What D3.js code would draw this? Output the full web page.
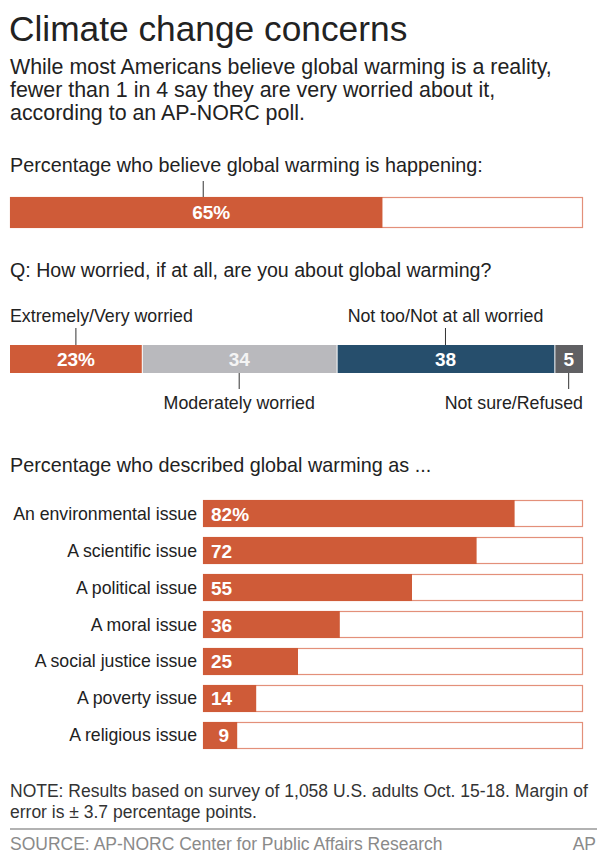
<!DOCTYPE html>
<html><head><meta charset="utf-8">
<script src="https://cdn.jsdelivr.net/npm/d3@7"></script>
<style>
html,body{margin:0;padding:0;background:#fff;}
svg text{font-family:"Liberation Sans",Arial,Helvetica,sans-serif;}
</style></head>
<body><div id="chart"></div>
<script>
// ---- data ----
const believeValue = 65;
const worryCategories = ["Extremely/Very worried","Moderately worried","Not too/Not at all worried","Not sure/Refused"];
const worryValues = [23, 34, 38, 5];
const worryLabels = ["23%","34","38","5"];
const issueCategories = ["An environmental issue","A scientific issue","A political issue","A moral issue","A social justice issue","A poverty issue","A religious issue"];
const issueValues = [82, 72, 55, 36, 25, 14, 9];
const issueLabels = ["82%","72","55","36","25","14","9"];

const W = 609, H = 862;
const orange = "#cf5b38", grey = "#b9b9bd", navy = "#264e6c", dgrey = "#606063";
const worryColors = [orange, grey, navy, dgrey];
const ink = "#222";

const svg = d3.select("#chart").append("svg").attr("width", W).attr("height", H);

// ---- headings ----
svg.append("text").attr("x", 9).attr("y", 41).attr("font-size", 35.3).attr("fill", ink)
  .text("Climate change concerns");
const sub = ["While most Americans believe global warming is a reality,",
             "fewer than 1 in 4 say they are very worried about it,",
             "according to an AP-NORC poll."];
svg.selectAll("text.sub").data(sub).join("text").attr("class","sub")
  .attr("x", 10).attr("y", (d,i) => 74 + i*23).attr("font-size", 21.4).attr("fill", ink).text(d => d);

// ---- section 1 ----
svg.append("text").attr("x", 10).attr("y", 172).attr("font-size", 19.8).attr("fill", ink)
  .text("Percentage who believe global warming is happening:");
const x1 = d3.scaleLinear().domain([0,100]).range([10,583]);
const b1y = 197, b1h = 31;
svg.append("rect").attr("x", x1(0)+0.5).attr("y", b1y+0.5).attr("width", x1(100)-x1(0)-1).attr("height", b1h-1)
  .attr("fill","#fff").attr("stroke","#e3907a").attr("stroke-width",1.2);
svg.append("rect").attr("x", x1(0)).attr("y", b1y).attr("width", x1(believeValue)-x1(0)).attr("height", b1h).attr("fill", orange);
svg.append("line").attr("x1", x1(believeValue/2)+7).attr("x2", x1(believeValue/2)+7).attr("y1", 181).attr("y2", b1y)
  .attr("stroke", "#333").attr("stroke-width", 1);
svg.append("text").attr("x", x1(believeValue/2)+15).attr("y", b1y+22).attr("text-anchor","middle")
  .attr("font-size", 19).attr("font-weight","bold").attr("fill","#fff").text(believeValue + "%");

// ---- section 2 ----
svg.append("text").attr("x", 10).attr("y", 277).attr("font-size", 19.6).attr("fill", ink)
  .text("Q: How worried, if at all, are you about global warming?");
const cum = d3.cumsum(worryValues);
const segs = worryValues.map((v,i) => ({name: worryCategories[i], v, label: worryLabels[i], x0: cum[i]-v, x1: cum[i], color: worryColors[i]}));
const b2y = 345, b2h = 28;
svg.selectAll("rect.seg").data(segs).join("rect").attr("class","seg")
  .attr("x", d => x1(d.x0) + (d.x0 > 0 ? 1 : 0)).attr("y", b2y)
  .attr("width", d => x1(d.x1) - x1(d.x0) - (d.x0 > 0 ? 1 : 0)).attr("height", b2h).attr("fill", d => d.color);
svg.selectAll("text.segv").data(segs).join("text").attr("class","segv")
  .attr("x", d => x1((d.x0+d.x1)/2)).attr("y", b2y+21).attr("text-anchor","middle")
  .attr("font-size", 19).attr("font-weight","bold").attr("fill", (d,i) => i===1 ? "#f4f4f4" : "#fff").text(d => d.label);
// annotation ticks & labels
const above = [true, false, true, false];
const anchors = ["start","middle","middle","end"];
segs.forEach((d,i) => {
  const cx = x1((d.x0+d.x1)/2);
  if (above[i]) {
    svg.append("line").attr("x1",cx).attr("x2",cx).attr("y1",328).attr("y2",b2y).attr("stroke","#333");
  } else {
    svg.append("line").attr("x1",cx).attr("x2",cx).attr("y1",b2y+b2h).attr("y2",389).attr("stroke","#333");
  }
  const tx = anchors[i] === "start" ? x1(0) : anchors[i] === "end" ? x1(100) : cx;
  svg.append("text").attr("x", tx).attr("y", above[i] ? 322 : 409).attr("text-anchor", anchors[i])
    .attr("font-size", 17.8).attr("fill", ink).text(d.name);
});

// ---- section 3 ----
svg.append("text").attr("x", 10).attr("y", 472).attr("font-size", 19.8).attr("fill", ink)
  .text("Percentage who described global warming as ...");
const x3 = d3.scaleLinear().domain([0,100]).range([203,583]);
const y3 = d3.scaleBand().domain(issueCategories).range([500, 749]).paddingInner(0.27).paddingOuter(0);
const rows = issueCategories.map((c,i) => ({c, v: issueValues[i], label: issueLabels[i]}));
const g3 = svg.append("g");
g3.selectAll("rect.bg").data(rows).join("rect").attr("class","bg")
  .attr("x", x3(0)+0.5).attr("y", d => y3(d.c)+0.5).attr("width", x3(100)-x3(0)-1).attr("height", y3.bandwidth()-1)
  .attr("fill","#fff").attr("stroke","#e3907a").attr("stroke-width",1.2);
g3.selectAll("rect.val").data(rows).join("rect").attr("class","val")
  .attr("x", x3(0)).attr("y", d => y3(d.c)).attr("width", d => x3(d.v)-x3(0)).attr("height", y3.bandwidth()).attr("fill", orange);
g3.selectAll("text.lab").data(rows).join("text").attr("class","lab")
  .attr("x", 197).attr("y", d => y3(d.c) + y3.bandwidth()/2 + 6).attr("text-anchor","end")
  .attr("font-size", 17.7).attr("fill", ink).text(d => d.c);
g3.selectAll("text.v").data(rows).join("text").attr("class","v")
  .attr("x", d => d.v < 10 ? x3(d.v) - 8 : x3(0) + 8)
  .attr("text-anchor", d => d.v < 10 ? "end" : "start")
  .attr("y", d => y3(d.c) + y3.bandwidth()/2 + 7)
  .attr("font-size", 19).attr("font-weight","bold").attr("fill","#fff").text(d => d.label);

// ---- footer ----
svg.append("text").attr("x", 10).attr("y", 797).attr("font-size", 17.5).attr("fill", "#333")
  .text("NOTE: Results based on survey of 1,058 U.S. adults Oct. 15-18. Margin of");
svg.append("text").attr("x", 10).attr("y", 818).attr("font-size", 17.5).attr("fill", "#333")
  .text("error is \u00b1 3.7 percentage points.");
svg.append("line").attr("x1", 10).attr("x2", 597).attr("y1", 829).attr("y2", 829).attr("stroke","#999").attr("stroke-width",1.5);
svg.append("text").attr("x", 10).attr("y", 850).attr("font-size", 17.5).attr("fill", "#8a8a8a")
  .text("SOURCE: AP-NORC Center for Public Affairs Research");
svg.append("text").attr("x", 596).attr("y", 850).attr("text-anchor","end").attr("font-size", 17.5).attr("fill", "#8a8a8a")
  .text("AP");
</script></body></html>
